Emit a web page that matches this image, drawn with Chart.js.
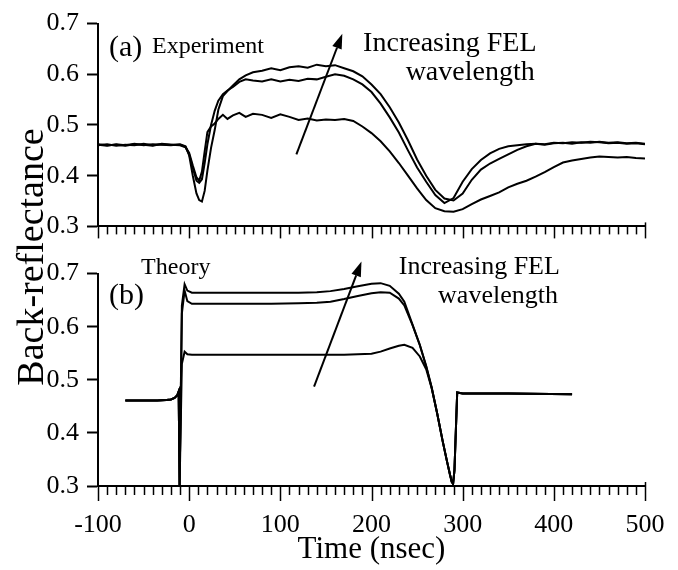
<!DOCTYPE html>
<html>
<head>
<meta charset="utf-8">
<script src="https://cdn.jsdelivr.net/npm/chart.js@4.4.1/dist/chart.umd.min.js"></script>
<style>
  body { margin: 0; background: #fff; }
  #wrap { position: relative; width: 678px; height: 570px; }
  canvas { position: absolute; left: 0; }
  #topChart { top: 0; }
  #botChart { top: 250px; }
  #ytitle {
    position: absolute; left: -170px; top: 238px; width: 400px; height: 38px;
    line-height: 38px; text-align: center; white-space: nowrap;
    font-family: "Liberation Serif", serif; font-size: 38px; color: #000;
    transform: rotate(-90deg);
  }
</style>
</head>
<body>
<div id="wrap">
  <canvas id="topChart" width="678" height="250"></canvas>
  <canvas id="botChart" width="678" height="320"></canvas>
  <div id="ytitle">Back-reflectance</div>
</div>
<script>
// (a) experiment, time in nsec
const expTime = [-100, -90, -80, -70, -60, -50, -40, -30, -20, -10,
  -4, 0, 4, 8, 11, 14, 17, 20, 24, 28, 32, 37, 42, 48, 55, 62,
  70, 80, 90, 100, 110, 120, 130, 140, 150, 160, 170, 180, 190, 200, 210, 220, 230, 240, 250, 260,
  270, 280, 290, 300, 310, 320, 330, 340, 350, 360, 370, 380, 390, 400, 410, 420, 430, 440, 450, 460,
  470, 480, 490, 500];

const expHigh = [0.461, 0.459, 0.462, 0.460, 0.463, 0.460, 0.462, 0.461, 0.460, 0.462,
  0.458, 0.44, 0.40, 0.365, 0.352, 0.349, 0.37, 0.41, 0.455, 0.49, 0.53, 0.557, 0.567, 0.578, 0.59, 0.598,
  0.604, 0.607, 0.612, 0.608, 0.614, 0.616, 0.613, 0.619, 0.616, 0.618, 0.612, 0.606, 0.596, 0.58, 0.561, 0.535, 0.505, 0.47, 0.432, 0.40,
  0.372, 0.355, 0.351, 0.365, 0.392, 0.412, 0.424, 0.433, 0.442, 0.451, 0.458, 0.463, 0.462, 0.465, 0.464, 0.466, 0.465, 0.467, 0.466, 0.464,
  0.465, 0.463, 0.464, 0.462];

const expMid = [0.460, 0.462, 0.459, 0.461, 0.460, 0.463, 0.460, 0.462, 0.461, 0.460,
  0.456, 0.442, 0.415, 0.39, 0.386, 0.393, 0.425, 0.462, 0.50, 0.528, 0.548, 0.561, 0.568, 0.575, 0.585, 0.59,
  0.588, 0.586, 0.59, 0.586, 0.589, 0.587, 0.591, 0.59, 0.595, 0.60, 0.597, 0.59, 0.58, 0.565, 0.542, 0.515, 0.485, 0.45, 0.416, 0.388,
  0.362, 0.346, 0.356, 0.388, 0.413, 0.431, 0.444, 0.453, 0.458, 0.46, 0.462, 0.463, 0.461, 0.464, 0.465, 0.463, 0.466, 0.465, 0.467, 0.465,
  0.466, 0.464, 0.465, 0.463];

const expLow = [0.462, 0.460, 0.461, 0.459, 0.462, 0.461, 0.459, 0.463, 0.461, 0.461,
  0.457, 0.445, 0.42, 0.397, 0.39, 0.408, 0.448, 0.486, 0.497, 0.503, 0.512, 0.52, 0.512, 0.519, 0.524, 0.516,
  0.522, 0.52, 0.514, 0.521, 0.516, 0.51, 0.513, 0.509, 0.511, 0.51, 0.512, 0.508, 0.497, 0.484, 0.468, 0.448, 0.425, 0.40, 0.375, 0.352,
  0.336, 0.33, 0.329, 0.334, 0.344, 0.353, 0.36, 0.367, 0.377, 0.384, 0.39, 0.398, 0.407, 0.417, 0.426, 0.43, 0.433, 0.436, 0.438, 0.437,
  0.436, 0.437, 0.435, 0.434];

// (b) theory
const thTime = [-70, -50, -35, -25, -20, -16, -13, -11.5, -10.5,
  -8, -5, -2, 3, 30, 60, 90, 120, 140, 155, 170, 185, 200,
  210, 220, 230, 236, 245, 253, 260, 266, 272, 278,
  283, 286, 288, 289.5, 291, 294, 300, 350, 420];

const thHigh = [0.461, 0.461, 0.461, 0.462, 0.463, 0.466, 0.471, 0.478, 0.30,
  0.64, 0.68, 0.668, 0.664, 0.664, 0.664, 0.664, 0.664, 0.665, 0.667, 0.671, 0.676, 0.681,
  0.682, 0.677, 0.662, 0.647, 0.604, 0.566, 0.526, 0.486, 0.437, 0.385,
  0.345, 0.322, 0.308, 0.304, 0.33, 0.476, 0.474, 0.474, 0.473];

const thMid = [0.461, 0.461, 0.461, 0.462, 0.463, 0.466, 0.471, 0.478, 0.30,
  0.625, 0.668, 0.648, 0.643, 0.643, 0.643, 0.643, 0.644, 0.645, 0.647, 0.652, 0.658, 0.663,
  0.665, 0.664, 0.653, 0.64, 0.603, 0.565, 0.525, 0.485, 0.437, 0.385,
  0.345, 0.322, 0.308, 0.304, 0.33, 0.476, 0.474, 0.474, 0.473];

const thLow = [0.461, 0.461, 0.461, 0.462, 0.463, 0.466, 0.471, 0.478, 0.30,
  0.53, 0.553, 0.548, 0.547, 0.547, 0.547, 0.547, 0.547, 0.547, 0.547, 0.547, 0.548, 0.549,
  0.553, 0.559, 0.564, 0.566, 0.56, 0.544, 0.52, 0.484, 0.437, 0.385,
  0.345, 0.322, 0.308, 0.304, 0.33, 0.476, 0.474, 0.474, 0.473];

const FONT = '"Liberation Serif", "Times New Roman", serif';

function toPoints(xs, ys) {
  return xs.map((t, i) => ({ x: t, y: ys[i] }));
}

function lineSet(xs, ys) {
  return {
    data: toPoints(xs, ys),
    borderColor: '#000',
    borderWidth: 2,
    pointRadius: 0,
    tension: 0,
    fill: false
  };
}

// minor/major time ticks, arrow and panel texts
const panelDeco = {
  id: 'panelDeco',
  afterDraw(chart, args, opts) {
    const { ctx, chartArea, scales: { x, y } } = chart;
    ctx.save();
    ctx.strokeStyle = '#000';
    ctx.fillStyle = '#000';
    ctx.lineWidth = 1.5;
    for (let v = -100; v <= 500; v += 10) {
      const px = Math.round(x.getPixelForValue(v)) + 0.5;
      const major = v % 100 === 0;
      const len = major ? opts.majorLen : opts.minorLen;
      const up = v === 500 ? 4 : 0;
      ctx.beginPath();
      ctx.moveTo(px, chartArea.bottom - up);
      ctx.lineTo(px, chartArea.bottom + len);
      ctx.stroke();
    }

    const [t0, r0, t1, r1] = opts.arrow;
    const x0 = x.getPixelForValue(t0), y0 = y.getPixelForValue(r0);
    const x1 = x.getPixelForValue(t1), y1 = y.getPixelForValue(r1);
    const ang = Math.atan2(y1 - y0, x1 - x0);
    const headLen = 15, headW = 5;
    const bx = x1 - headLen * Math.cos(ang), by = y1 - headLen * Math.sin(ang);
    ctx.lineWidth = 2;
    ctx.beginPath();
    ctx.moveTo(x0, y0);
    ctx.lineTo(bx, by);
    ctx.stroke();
    ctx.beginPath();
    ctx.moveTo(x1, y1);
    ctx.lineTo(bx + headW * Math.sin(ang), by - headW * Math.cos(ang));
    ctx.lineTo(bx - headW * Math.sin(ang), by + headW * Math.cos(ang));
    ctx.closePath();
    ctx.fill();

    ctx.textBaseline = 'middle';
    opts.labels.forEach(l => {
      ctx.font = l.size + 'px ' + FONT;
      ctx.textAlign = l.align;
      ctx.fillText(l.text, x.getPixelForValue(l.t), y.getPixelForValue(l.r));
    });
    ctx.restore();
  }
};

function yScale() {
  return {
    min: 0.3,
    max: 0.7,
    afterFit: s => { s.width = 98; },
    ticks: {
      stepSize: 0.1,
      padding: 8,
      color: '#000',
      font: { family: FONT, size: 26 },
      callback: v => Number(v).toFixed(1)
    },
    grid: { drawOnChartArea: false, tickLength: 11, tickWidth: 2, tickColor: '#000' },
    border: { color: '#000', width: 2 }
  };
}

const configTop = {
  type: 'line',
  data: { datasets: [lineSet(expTime, expHigh), lineSet(expTime, expMid), lineSet(expTime, expLow)] },
  options: {
    responsive: false,
    animation: false,
    layout: { padding: { top: 16, right: 33, left: 0, bottom: 0 } },
    scales: {
      x: {
        type: 'linear',
        min: -100,
        max: 500,
        afterFit: s => { s.height = 19; },
        ticks: { display: false },
        grid: { drawOnChartArea: false, drawTicks: false },
        border: { color: '#000', width: 2 }
      },
      y: yScale()
    },
    plugins: {
      legend: { display: false },
      tooltip: { enabled: false },
      panelDeco: {
        majorLen: 12,
        minorLen: 8,
        arrow: [117.6, 0.442, 168, 0.68],
        labels: [
          { text: '(a)', t: -88, r: 0.652, size: 30, align: 'left' },
          { text: 'Experiment', t: -40.7, r: 0.655, size: 24, align: 'left' },
          { text: 'Increasing FEL', t: 381, r: 0.661, size: 28, align: 'right' },
          { text: 'wavelength', t: 379, r: 0.603, size: 28, align: 'right' }
        ]
      }
    }
  },
  plugins: [panelDeco]
};

const configBot = {
  type: 'line',
  data: { datasets: [lineSet(thTime, thHigh), lineSet(thTime, thMid), lineSet(thTime, thLow)] },
  options: {
    responsive: false,
    animation: false,
    layout: { padding: { top: 19.3, right: 33, left: 0, bottom: 0 } },
    scales: {
      x: {
        type: 'linear',
        min: -100,
        max: 500,
        afterFit: s => { s.height = 84; },
        ticks: {
          stepSize: 100,
          padding: 2,
          maxRotation: 0,
          autoSkip: false,
          color: '#000',
          font: { family: FONT, size: 26 }
        },
        // invisible tick marks only push the labels down; visible ones come from panelDeco
        grid: { drawOnChartArea: false, drawTicks: true, tickLength: 22, tickColor: 'rgba(0,0,0,0)' },
        border: { color: '#000', width: 2 },
        title: {
          display: true,
          text: 'Time (nsec)',
          color: '#000',
          font: { family: FONT, size: 31 },
          padding: { top: 0, bottom: 1.4 }
        }
      },
      y: yScale()
    },
    plugins: {
      legend: { display: false },
      tooltip: { enabled: false },
      panelDeco: {
        majorLen: 15,
        minorLen: 9,
        arrow: [137, 0.487, 189, 0.723],
        labels: [
          { text: 'Theory', t: -52.7, r: 0.712, size: 24, align: 'left' },
          { text: '(b)', t: -88, r: 0.658, size: 30, align: 'left' },
          { text: 'Increasing FEL', t: 406.6, r: 0.712, size: 26, align: 'right' },
          { text: 'wavelength', t: 404.5, r: 0.658, size: 26, align: 'right' }
        ]
      }
    }
  },
  plugins: [panelDeco]
};

new Chart(document.getElementById('topChart'), configTop);
new Chart(document.getElementById('botChart'), configBot);
</script>
</body>
</html>
